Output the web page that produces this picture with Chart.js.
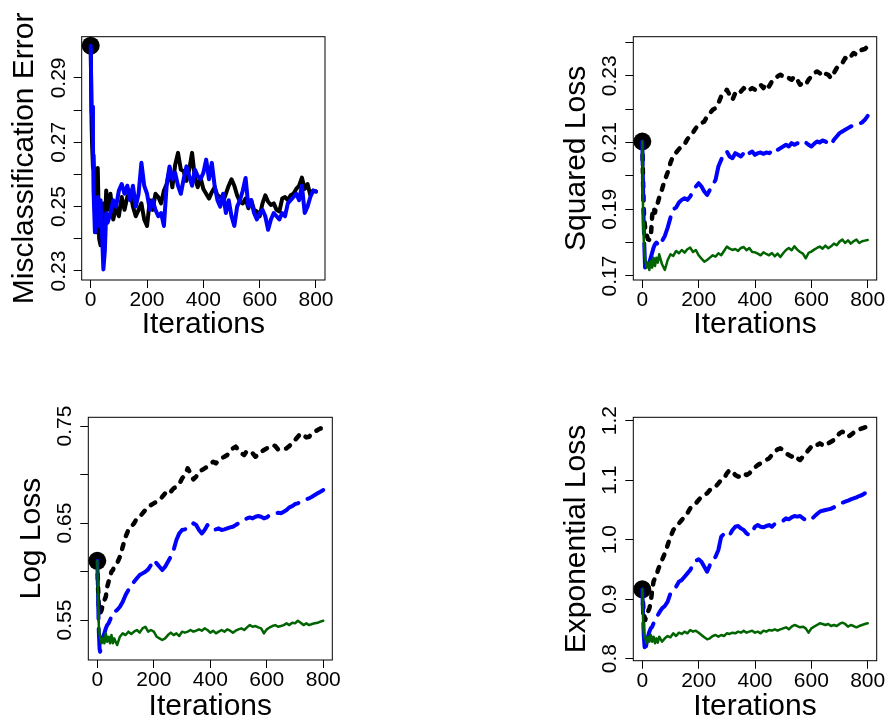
<!DOCTYPE html>
<html>
<head>
<meta charset="utf-8">
<script src="https://cdn.jsdelivr.net/npm/chart.js@4.4.1/dist/chart.umd.min.js"></script>
<style>
  html, body { margin: 0; padding: 0; background: #fff; }
  #wrap { position: relative; width: 888px; height: 719px; background: #fff; }
  canvas { position: absolute; }
</style>
</head>
<body>
<div id="wrap">
  <canvas id="c1" width="444" height="360" style="left:0px;top:0px;width:444px;height:360px"></canvas>
  <canvas id="c2" width="444" height="360" style="left:444px;top:0px;width:444px;height:360px"></canvas>
  <canvas id="c3" width="444" height="359" style="left:0px;top:360px;width:444px;height:359px"></canvas>
  <canvas id="c4" width="444" height="359" style="left:444px;top:360px;width:444px;height:359px"></canvas>
</div>
<script>
// ---------- shared x values ----------
const iterations = [0,3,5,8,10,15,20,25,30,35,40,45,50,55,60,
  70,80,90,100,110,120,130,140,150,160,
  170,180,190,200,210,220,230,240,250,260,
  270,280,290,300,310,320,330,340,350,360,
  370,380,390,400,410,420,430,440,450,460,
  470,480,490,500,510,520,530,540,550,560,
  570,580,590,600,610,620,630,640,650,660,
  670,680,690,700,710,720,730,740,750,760,
  770,780,790,800];
const xTicks = [0, 200, 400, 600, 800];
const xTitle = 'Iterations';

// ---------- Panel 1: Misclassification Error ----------
const misTitle = 'Misclassification Error';
const misTicks = [0.23, 0.24, 0.25, 0.26, 0.27, 0.28, 0.29];
const misTickLabels = ['0.23', '0.25', '0.27', '0.29'];
const misLabelValues = [0.23, 0.25, 0.27, 0.29];
const misBlack = [0.300,0.276,0.269,0.262,0.266,0.248,0.242,0.262,0.240,0.238,0.247,0.251,0.242,0.255,0.249,
  0.254,0.246,0.250,0.247,0.253,0.249,0.253,0.255,0.250,0.247,
  0.249,0.251,0.246,0.244,0.252,0.249,0.254,0.253,0.251,0.255,
  0.257,0.2615,0.256,0.263,0.2667,0.2615,0.261,0.258,0.2615,0.2667,
  0.259,0.256,0.259,0.2555,0.254,0.2525,0.2545,0.256,0.2535,0.253,
  0.2515,0.254,0.2565,0.2585,0.2565,0.2535,0.2515,0.251,0.2525,0.2495,
  0.252,0.249,0.2485,0.247,0.251,0.2535,0.2515,0.2505,0.251,0.249,
  0.2485,0.2525,0.253,0.252,0.2535,0.254,0.2555,0.2565,0.259,0.2555,
  0.257,0.2535,0.255,0.2547];
const misBlue = [0.300,0.279,0.281,0.270,0.255,0.242,0.248,0.253,0.244,0.252,0.242,0.2305,0.236,0.248,0.245,
  0.248,0.252,0.250,0.255,0.257,0.254,0.2565,0.252,0.2565,0.250,
  0.254,0.2636,0.2565,0.254,0.249,0.252,0.249,0.247,0.248,0.244,
  0.257,0.2625,0.2585,0.2605,0.2565,0.254,0.2585,0.2625,0.2595,0.2565,
  0.2615,0.2595,0.2585,0.2605,0.2646,0.2585,0.2636,0.2565,0.252,0.250,
  0.254,0.248,0.252,0.247,0.244,0.250,0.252,0.255,0.2589,0.250,
  0.252,0.248,0.246,0.248,0.249,0.247,0.2428,0.246,0.248,0.247,
  0.246,0.248,0.247,0.251,0.252,0.253,0.254,0.252,0.2565,0.248,
  0.250,0.253,0.255,0.2547];

// ---------- Panel 2: Squared Loss ----------
const sqTitle = 'Squared Loss';
const sqTicks = [0.17, 0.18, 0.19, 0.20, 0.21, 0.22, 0.23, 0.24];
const sqTickLabels = ['0.17', '0.19', '0.21', '0.23'];
const sqLabelValues = [0.17, 0.19, 0.21, 0.23];
const sqBlack = [0.2103,0.197,0.190,0.186,0.1845,0.1825,0.181,0.1808,0.1815,0.188,0.1905,0.189,0.1915,0.192,0.1935,
  0.196,0.1988,0.201,0.204,0.206,0.207,0.208,0.209,0.2095,0.211,
  0.212,0.213,0.2143,0.2153,0.2158,0.2163,0.2178,0.2188,0.2198,0.2203,
  0.2218,0.2238,0.2248,0.2258,0.2243,0.2228,0.2248,0.2243,0.2253,0.2263,
  0.2253,0.2258,0.2263,0.2258,0.2268,0.2273,0.2263,0.2278,0.2268,0.2283,
  0.2288,0.2298,0.2303,0.2298,0.2300,0.2293,0.2288,0.2298,0.2288,0.2273,
  0.2278,0.2273,0.2288,0.2298,0.2308,0.2313,0.2308,0.2298,0.2306,0.2303,
  0.2293,0.2308,0.2323,0.2333,0.2338,0.2353,0.2348,0.2358,0.2368,0.2363,
  0.2373,0.2378,0.2380,0.2388];
const sqBlue = [0.2103,0.195,0.185,0.177,0.172,0.1718,0.1725,0.174,0.1755,0.177,0.1785,0.1795,0.180,0.1795,0.179,
  0.1805,0.182,0.1845,0.1875,0.190,0.1905,0.192,0.1928,0.1933,0.1928,
  0.1938,0.1953,0.1968,0.1978,0.1968,0.1953,0.1943,0.1958,0.1973,0.1988,
  0.2028,0.2048,0.2068,0.2073,0.2058,0.2053,0.2068,0.2063,0.2058,0.2068,
  0.2078,0.2068,0.2073,0.2063,0.2068,0.2070,0.2066,0.2070,0.2068,0.2073,
  0.2068,0.2078,0.2083,0.2088,0.2093,0.2088,0.2098,0.2093,0.2098,0.2096,
  0.2103,0.2100,0.2093,0.2088,0.2096,0.2103,0.2100,0.2106,0.2103,0.2098,
  0.2093,0.2108,0.2118,0.2128,0.2133,0.2138,0.2143,0.2148,0.2150,0.2153,
  0.2156,0.2160,0.2168,0.2180];
const sqGreen = [0.2103,0.186,0.181,0.177,0.175,0.1725,0.174,0.1718,0.1745,0.1725,0.1755,0.173,0.1755,0.174,0.1765,
  0.1735,0.1718,0.1748,0.1765,0.176,0.1775,0.1768,0.1778,0.177,0.178,
  0.1785,0.1772,0.1778,0.1762,0.1752,0.1743,0.1748,0.1755,0.1762,0.1758,
  0.1768,0.1762,0.1775,0.1788,0.1782,0.1778,0.1781,0.1775,0.1784,0.1787,
  0.1777,0.1784,0.1772,0.1771,0.1767,0.1762,0.1771,0.1766,0.1762,0.1769,
  0.1759,0.1767,0.1757,0.1768,0.1778,0.1784,0.1777,0.1789,0.1779,0.1772,
  0.1767,0.1753,0.1769,0.1773,0.1779,0.1784,0.1788,0.1782,0.1791,0.1783,
  0.1789,0.1797,0.1792,0.1803,0.1809,0.1799,0.1807,0.1797,0.1804,0.1809,
  0.1799,0.1804,0.1806,0.1808];

// ---------- Panel 3: Log Loss ----------
const logTitle = 'Log Loss';
const logTicks = [0.55, 0.60, 0.65, 0.70, 0.75];
const logTickLabels = ['0.55', '0.65', '0.75'];
const logLabelValues = [0.55, 0.65, 0.75];
const logBlack = [0.611,0.580,0.565,0.558,0.5569,0.5603,0.5672,0.5706,0.574,0.5844,0.5895,0.5947,0.5998,0.6015,0.605,
  0.6084,0.6153,0.6256,0.6359,0.6428,0.6462,0.6497,0.6548,0.6565,0.6600,
  0.6634,0.6651,0.6686,0.6703,0.6720,0.6737,0.6771,0.6806,0.6840,0.6823,
  0.6857,0.6875,0.6902,0.6960,0.6995,0.7064,0.7012,0.6950,0.6978,0.7029,
  0.7046,0.7064,0.7081,0.7108,0.7132,0.7115,0.7149,0.7167,0.7184,0.7201,
  0.7235,0.7270,0.7287,0.7253,0.7218,0.7201,0.7246,0.7235,0.7218,0.7184,
  0.7201,0.7235,0.7253,0.7270,0.7287,0.7304,0.7294,0.7259,0.7253,0.7259,
  0.7270,0.7294,0.7321,0.7356,0.7390,0.7424,0.7407,0.7383,0.7390,0.7424,
  0.7442,0.7459,0.7476,0.7466];
const logBlue = [0.611,0.570,0.540,0.520,0.5173,0.526,0.5328,0.5363,0.5414,0.5448,0.5466,0.5500,0.5534,0.5569,0.5586,
  0.5603,0.5637,0.5689,0.5758,0.5809,0.5844,0.5895,0.5930,0.5964,0.5981,
  0.5998,0.6022,0.6067,0.6119,0.6084,0.6050,0.6015,0.6050,0.6101,0.6153,
  0.6222,0.6325,0.6393,0.6428,0.6435,0.6445,0.6462,0.6497,0.6479,0.6428,
  0.6393,0.6428,0.6479,0.6445,0.6428,0.6435,0.6445,0.6428,0.6435,0.6445,
  0.6455,0.6462,0.6479,0.6497,0.6514,0.6531,0.6548,0.6558,0.6548,0.6565,
  0.6572,0.6565,0.6548,0.6558,0.6582,0.6593,0.6600,0.6606,0.6600,0.6617,
  0.6634,0.6662,0.6675,0.6696,0.6703,0.6720,0.6737,0.6744,0.6754,0.6771,
  0.6789,0.6806,0.6823,0.6840];
const logGreen = [0.611,0.560,0.545,0.535,0.5328,0.5260,0.5311,0.5260,0.5363,0.5277,0.5328,0.5260,0.5345,0.5260,0.5311,
  0.5242,0.5328,0.5363,0.5345,0.5380,0.5356,0.5380,0.5397,0.5370,0.5414,
  0.5431,0.5380,0.5397,0.5380,0.5328,0.5311,0.5294,0.5311,0.5345,0.5370,
  0.5345,0.5363,0.5335,0.5380,0.5370,0.5380,0.5397,0.5380,0.5390,0.5404,
  0.5390,0.5414,0.5397,0.5370,0.5390,0.5363,0.5380,0.5397,0.5380,0.5404,
  0.5390,0.5370,0.5390,0.5404,0.5414,0.5397,0.5424,0.5448,0.5431,0.5438,
  0.5424,0.5414,0.5363,0.5404,0.5424,0.5438,0.5448,0.5431,0.5438,0.5448,
  0.5466,0.5448,0.5472,0.5466,0.5493,0.5472,0.5448,0.5466,0.5448,0.5459,
  0.5466,0.5472,0.5483,0.5493];

// ---------- Panel 4: Exponential Loss ----------
const expTitle = 'Exponential Loss';
const expTicks = [0.8, 0.9, 1.0, 1.1, 1.2];
const expTickLabels = ['0.8', '0.9', '1.0', '1.1', '1.2'];
const expLabelValues = [0.8, 0.9, 1.0, 1.1, 1.2];
const expBlack = [0.9165,0.890,0.875,0.870,0.865,0.8706,0.879,0.8846,0.895,0.915,0.930,0.935,0.940,0.948,0.9546,
  0.9658,0.9770,0.9910,1.0050,1.0162,1.0218,1.0275,1.0330,1.0387,1.0443,
  1.0527,1.0583,1.0611,1.0667,1.0723,1.0751,1.0779,1.0835,1.0846,1.0891,
  1.0947,1.1003,1.1031,1.1115,1.1171,1.1143,1.1087,1.1059,1.1070,1.1115,
  1.1087,1.1115,1.1171,1.1216,1.1255,1.1283,1.1311,1.1339,1.1367,1.1423,
  1.1479,1.1518,1.1535,1.1507,1.1451,1.1423,1.1395,1.1423,1.1367,1.1339,
  1.1395,1.1451,1.1507,1.1563,1.1608,1.1591,1.1619,1.1591,1.1574,1.1619,
  1.1647,1.1675,1.1731,1.1787,1.1815,1.1787,1.1731,1.1759,1.1798,1.1815,
  1.1854,1.1871,1.1888,1.1899];
const expBlue = [0.9165,0.870,0.840,0.820,0.8118,0.8258,0.8370,0.8454,0.8510,0.8538,0.8594,0.8650,0.8706,0.8734,0.8773,
  0.8846,0.8885,0.8958,0.9098,0.9154,0.9210,0.9294,0.9322,0.9378,0.9434,
  0.9490,0.9574,0.9647,0.9670,0.9630,0.9546,0.9462,0.9574,0.9658,0.9714,
  0.9826,1.0050,1.0095,1.0118,1.0078,1.0162,1.0218,1.0230,1.0190,1.0162,
  1.0106,1.0078,1.0134,1.0218,1.0246,1.0218,1.0207,1.0230,1.0246,1.0218,
  1.0263,1.0286,1.0303,1.0320,1.0359,1.0342,1.0375,1.0398,1.0387,1.0398,
  1.0359,1.0331,1.0320,1.0342,1.0387,1.0431,1.0470,1.0487,1.0499,1.0510,
  1.0521,1.0543,1.0583,1.0599,1.0622,1.0639,1.0655,1.0678,1.0695,1.0712,
  1.0734,1.0751,1.0779,1.0835];
const expGreen = [0.9165,0.860,0.845,0.835,0.837,0.8258,0.8370,0.8286,0.8398,0.8286,0.8370,0.8258,0.8342,0.8269,0.8370,
  0.8286,0.8342,0.8381,0.8359,0.8426,0.8381,0.8437,0.8415,0.8454,0.8426,
  0.8482,0.8454,0.8471,0.8437,0.8398,0.8359,0.8325,0.8342,0.8381,0.8398,
  0.8370,0.8398,0.8381,0.8426,0.8415,0.8437,0.8426,0.8454,0.8437,0.8471,
  0.8437,0.8454,0.8471,0.8437,0.8454,0.8426,0.8471,0.8454,0.8482,0.8471,
  0.8493,0.8471,0.8493,0.8510,0.8527,0.8493,0.8538,0.8566,0.8549,0.8527,
  0.8538,0.8510,0.8437,0.8510,0.8538,0.8566,0.8594,0.8583,0.8566,0.8583,
  0.8549,0.8566,0.8549,0.8583,0.8605,0.8583,0.8538,0.8566,0.8549,0.8527,
  0.8549,0.8566,0.8583,0.8594];

// ---------- styling ----------
const FONT = '"Liberation Sans", Arial, Helvetica, sans-serif';
const TICK_SIZE = 21;
const TITLE_SIZE = 30;
const COL_BLACK = '#000000';
const COL_BLUE = '#0000ff';
const COL_GREEN = '#006400';

function pts(vals) { return iterations.map((x, i) => ({ x: x, y: vals[i] })); }

const rPlugin = {
  id: 'rstyle',
  afterDraw(chart) {
    const o = chart.options.plugins.rstyle;
    const ctx = chart.ctx;
    const a = chart.chartArea;
    // box
    ctx.save();
    ctx.strokeStyle = '#000';
    ctx.lineWidth = 1;
    ctx.strokeRect(a.left, a.top, a.right - a.left, a.bottom - a.top);
    ctx.restore();
    // rotated y tick labels (R style, parallel to axis)
    const ys = chart.scales.y;
    ctx.save();
    ctx.font = TICK_SIZE + 'px ' + FONT;
    ctx.fillStyle = '#000';
    ctx.textAlign = 'center';
    ctx.textBaseline = 'alphabetic';
    o.labelValues.forEach((v, i) => {
      const py = ys.getPixelForValue(v);
      ctx.save();
      ctx.translate(a.left - 17, py);
      ctx.rotate(-Math.PI / 2);
      ctx.fillText(o.labels[i], 0, 0);
      ctx.restore();
    });
    ctx.restore();
  }
};

function makePanel(id, spec) {
  const canvas = document.getElementById(id);
  const W = canvas.width, H = canvas.height;
  const b = spec.box;
  const YW = 74.5;
  const XH = spec.xh;
  const datasets = [];
  // start marker (drawn beneath lines)
  datasets.push({
    data: [{ x: 0, y: spec.start }],
    showLine: false, pointRadius: 9, pointHoverRadius: 9,
    pointBackgroundColor: '#000', pointBorderColor: '#000', pointBorderWidth: 0,
    clip: false, order: 10
  });
  spec.series.forEach((s, k) => {
    datasets.push({
      data: pts(s.values),
      borderColor: s.color, borderWidth: s.width,
      borderDash: s.dash || [],
      borderCapStyle: 'round', borderJoinStyle: 'round',
      pointRadius: 0, tension: 0, fill: false,
      order: spec.series.length - k
    });
  });
  new Chart(canvas, {
    type: 'line',
    data: { datasets: datasets },
    options: {
      responsive: false,
      animation: false,
      events: [],
      layout: { padding: { left: b.l - YW, top: b.t, right: W - b.r, bottom: H - b.b - XH } },
      plugins: {
        legend: { display: false },
        tooltip: { enabled: false },
        rstyle: { labels: spec.labels, labelValues: spec.labelValues }
      },
      scales: {
        x: {
          type: 'linear', min: -32, max: 832,
          afterBuildTicks: (s) => { s.ticks = xTicks.map(v => ({ value: v })); },
          afterFit: (s) => { s.height = XH; },
          grid: { drawOnChartArea: false, drawTicks: true, tickLength: 8, color: '#000', lineWidth: 1 },
          border: { display: false },
          ticks: { font: { family: FONT, size: TICK_SIZE }, color: '#000', padding: 0, maxRotation: 0, minRotation: 0, autoSkip: false,
                   callback: (v) => String(v) },
          title: { display: true, text: xTitle, color: '#000', font: { family: FONT, size: TITLE_SIZE, lineHeight: 1.2 }, padding: { top: 0, bottom: 0 } }
        },
        y: {
          type: 'linear', min: spec.ymin, max: spec.ymax,
          afterBuildTicks: (s) => { s.ticks = spec.ticks.map(v => ({ value: v })); },
          afterFit: (s) => { s.width = YW; },
          grid: { drawOnChartArea: false, drawTicks: true, tickLength: 8, color: '#000', lineWidth: 1 },
          border: { display: false },
          ticks: { display: false },
          title: { display: true, text: spec.title, color: '#000', font: { family: FONT, size: TITLE_SIZE, lineHeight: 1.2 }, padding: { top: 0, bottom: 0 } }
        }
      }
    },
    plugins: [rPlugin]
  });
}

const BLACK_DASH = [5, 8.5];
const BLUE_DASH = [24, 10];

makePanel('c1', {
  box: { l: 81.7, t: 36.7, r: 325, b: 280 }, xh: 63,
  ymin: 0.2272, ymax: 0.3028, ticks: misTicks, labels: misTickLabels, labelValues: misLabelValues,
  title: misTitle, start: misBlack[0],
  series: [
    { values: misBlack, color: COL_BLACK, width: 4 },
    { values: misBlue, color: COL_BLUE, width: 4 }
  ]
});
makePanel('c2', {
  box: { l: 189.3, t: 36.7, r: 432.7, b: 280 }, xh: 63,
  ymin: 0.1688, ymax: 0.2417, ticks: sqTicks, labels: sqTickLabels, labelValues: sqLabelValues,
  title: sqTitle, start: sqBlack[0],
  series: [
    { values: sqBlack, color: COL_BLACK, width: 4.5, dash: BLACK_DASH },
    { values: sqBlue, color: COL_BLUE, width: 4, dash: BLUE_DASH },
    { values: sqGreen, color: COL_GREEN, width: 2.5 }
  ]
});
makePanel('c3', {
  box: { l: 88.3, t: 57.3, r: 332.3, b: 300 }, xh: 64.5,
  ymin: 0.5088, ymax: 0.759, ticks: logTicks, labels: logTickLabels, labelValues: logLabelValues,
  title: logTitle, start: logBlack[0],
  series: [
    { values: logBlack, color: COL_BLACK, width: 4.5, dash: BLACK_DASH },
    { values: logBlue, color: COL_BLUE, width: 4, dash: BLUE_DASH },
    { values: logGreen, color: COL_GREEN, width: 2.5 }
  ]
});
makePanel('c4', {
  box: { l: 189.3, t: 57.3, r: 432.7, b: 300.7 }, xh: 64,
  ymin: 0.7966, ymax: 1.2057, ticks: expTicks, labels: expTickLabels, labelValues: expLabelValues,
  title: expTitle, start: expBlack[0],
  series: [
    { values: expBlack, color: COL_BLACK, width: 4.5, dash: BLACK_DASH },
    { values: expBlue, color: COL_BLUE, width: 4, dash: BLUE_DASH },
    { values: expGreen, color: COL_GREEN, width: 2.5 }
  ]
});
</script>
</body>
</html>
